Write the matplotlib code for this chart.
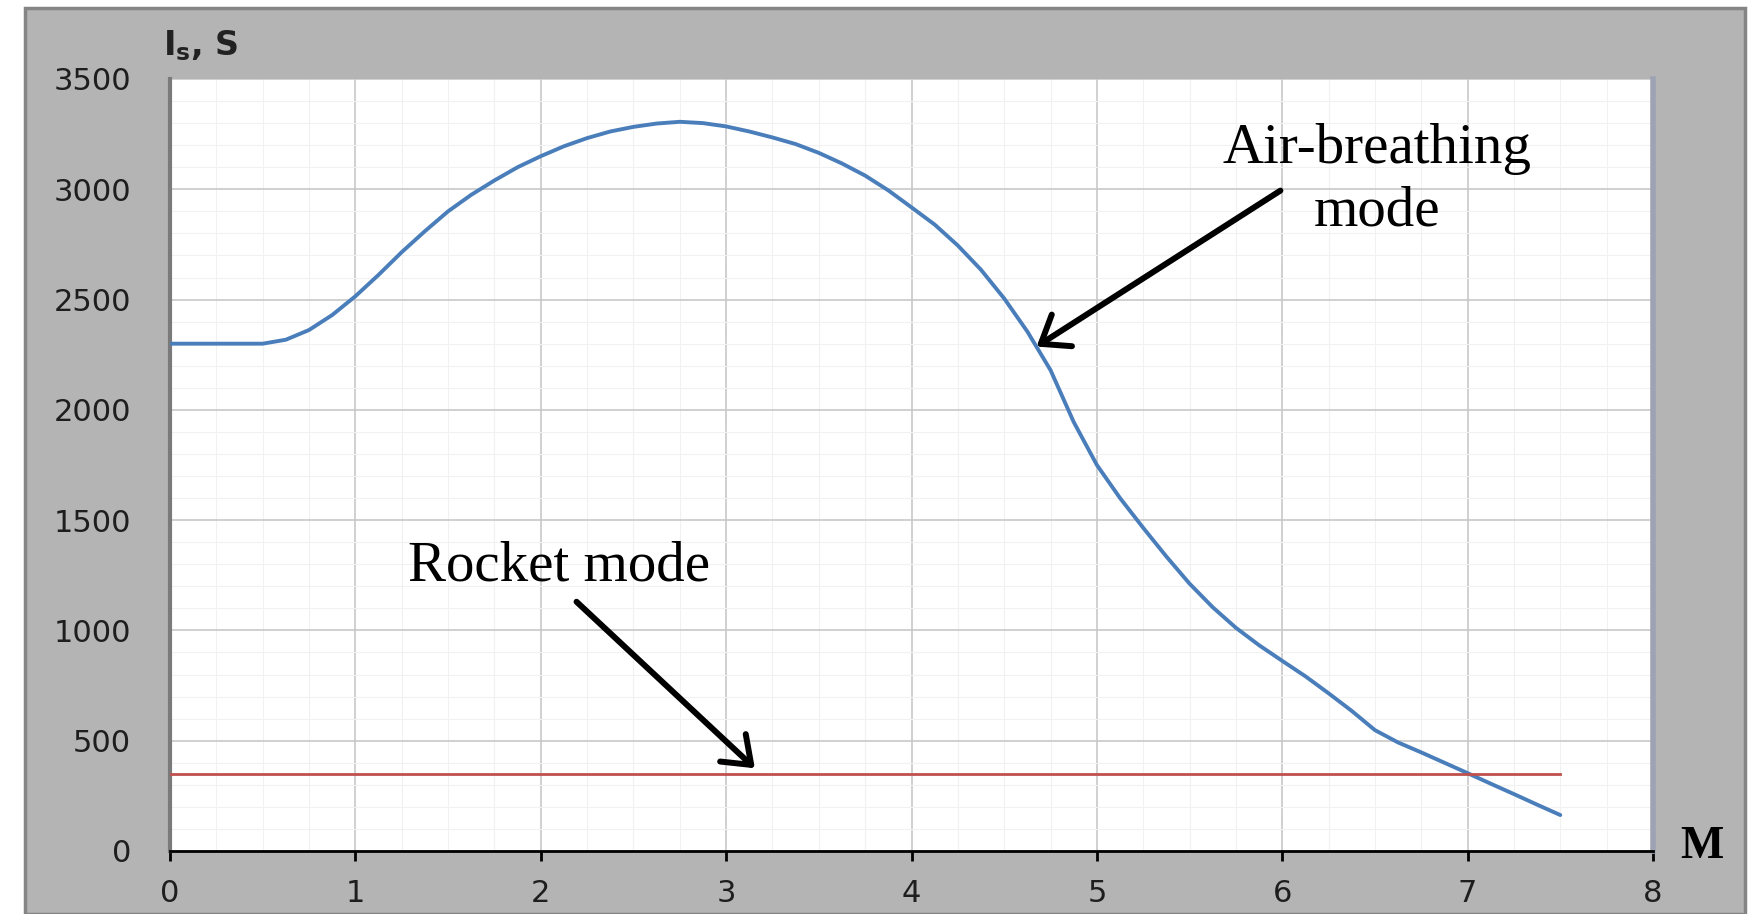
import matplotlib
matplotlib.use("Agg")
import matplotlib.pyplot as plt
from matplotlib.patches import Rectangle

# Mach number and specific impulse (s) of the air-breathing mode
mach = [0, 0.125, 0.25, 0.375, 0.5, 0.625, 0.75, 0.875, 1.0, 1.125, 1.25, 1.375, 1.5, 1.625,
        1.75, 1.875, 2.0, 2.125, 2.25, 2.375, 2.5, 2.625, 2.75, 2.875, 3.0, 3.125, 3.25, 3.375,
        3.5, 3.625, 3.75, 3.875, 4.0, 4.125, 4.25, 4.375, 4.5, 4.625, 4.75, 4.875, 5.0, 5.125,
        5.25, 5.375, 5.5, 5.625, 5.75, 5.875, 6.0, 6.125, 6.25, 6.375, 6.5, 6.625, 6.75, 6.875,
        7.0, 7.125, 7.25, 7.375, 7.5]
isp_air = [2300, 2300, 2300, 2300, 2300, 2318, 2362, 2430, 2515, 2612, 2715, 2810, 2900, 2975,
           3040, 3100, 3150, 3195, 3232, 3262, 3283, 3298, 3306, 3300, 3285, 3262, 3235, 3205,
           3165, 3117, 3062, 2995, 2918, 2840, 2745, 2635, 2505, 2355, 2180, 1945, 1750, 1600,
           1465, 1335, 1212, 1105, 1012, 933, 862, 792, 715, 635, 548, 492, 447, 400,
           353, 305, 258, 210, 163]
# rocket mode, constant
rocket_mach = [0, 7.5]
isp_rocket = [350, 350]

x_ticks = [0, 1, 2, 3, 4, 5, 6, 7, 8]
y_ticks = [0, 500, 1000, 1500, 2000, 2500, 3000, 3500]

W, H = 1748, 914
fig = plt.figure(figsize=(W / 100, H / 100), dpi=100, facecolor="white")

# grey chart panel behind the plot area
fig.patches.append(Rectangle((25 / W, 0), 1720 / W, 906 / H, transform=fig.transFigure,
                             facecolor="#b4b4b4", edgecolor="#858585", lw=2.5, zorder=-1))

ax = fig.add_axes([170 / W, 1 - 851 / H, 1483 / W, 772 / H])
ax.set_facecolor("white")

ax.plot(mach, isp_air, color="#4a7ebb", lw=2.8, zorder=3,
        solid_capstyle="round", solid_joinstyle="round")
ax.plot(rocket_mach, isp_rocket, color="#c0504d", lw=2.0, zorder=3)

ax.set_xlim(0, 8)
ax.set_ylim(0, 3500)
ax.set_xticks(x_ticks)
ax.set_yticks(y_ticks)
ax.set_xticks([i * 0.25 for i in range(33)], minor=True)
ax.set_yticks([i * 100 for i in range(36)], minor=True)
ax.grid(True, which="major", color="#c8c8c8", lw=1.2, zorder=1)
ax.grid(True, which="minor", color="#f1f1f1", lw=0.8, zorder=0.5)
ax.set_axisbelow(True)

ax.tick_params(axis="x", which="major", direction="out", length=7, width=2, color="black",
               pad=13, labelsize=22, labelcolor="#1e1e1e")
ax.tick_params(axis="y", which="major", length=0, pad=28, labelsize=22, labelcolor="#1e1e1e")
ax.tick_params(which="minor", length=0)
for lab in ax.get_xticklabels() + ax.get_yticklabels():
    lab.set_fontfamily("DejaVu Sans")

ax.spines["top"].set_visible(False)
ax.spines["left"].set_color("#7a7a7a")
ax.spines["left"].set_linewidth(3)
ax.spines["right"].set_color("#9ea3b3")
ax.spines["right"].set_linewidth(4)
ax.spines["bottom"].set_color("black")
ax.spines["bottom"].set_linewidth(2)

serif = "Liberation Serif"
ax.text(6.51, 3119, "Air-breathing", ha="center", va="baseline", fontsize=41, family=serif)
ax.text(6.51, 2834, "mode", ha="center", va="baseline", fontsize=41, family=serif)
ax.text(2.10, 1226, "Rocket mode", ha="center", va="baseline", fontsize=41, family=serif)

arrow = dict(arrowstyle="->,head_length=0.6,head_width=0.45", color="black", lw=4.3,
             mutation_scale=30, shrinkA=0, shrinkB=0)
ax.annotate("", xy=(4.675, 2287), xytext=(5.99, 2994), arrowprops=arrow, zorder=4)
ax.annotate("", xy=(3.155, 375), xytext=(2.193, 1130), arrowprops=arrow, zorder=4)

plt.rcParams["mathtext.fontset"] = "custom"
plt.rcParams["mathtext.bf"] = "DejaVu Sans:bold"
ax.text(-0.005, 1.031, r"I$\mathbf{_s}$, S", transform=ax.transAxes, ha="left", va="baseline",
        fontsize=24, fontweight="bold", family="DejaVu Sans", color="#222222")
fig.text(1680 / W, 1 - 858 / H, "M", ha="left", va="baseline", fontsize=33,
         fontweight="bold", family=serif)

fig.savefig("out.png", dpi=100, facecolor=fig.get_facecolor())
